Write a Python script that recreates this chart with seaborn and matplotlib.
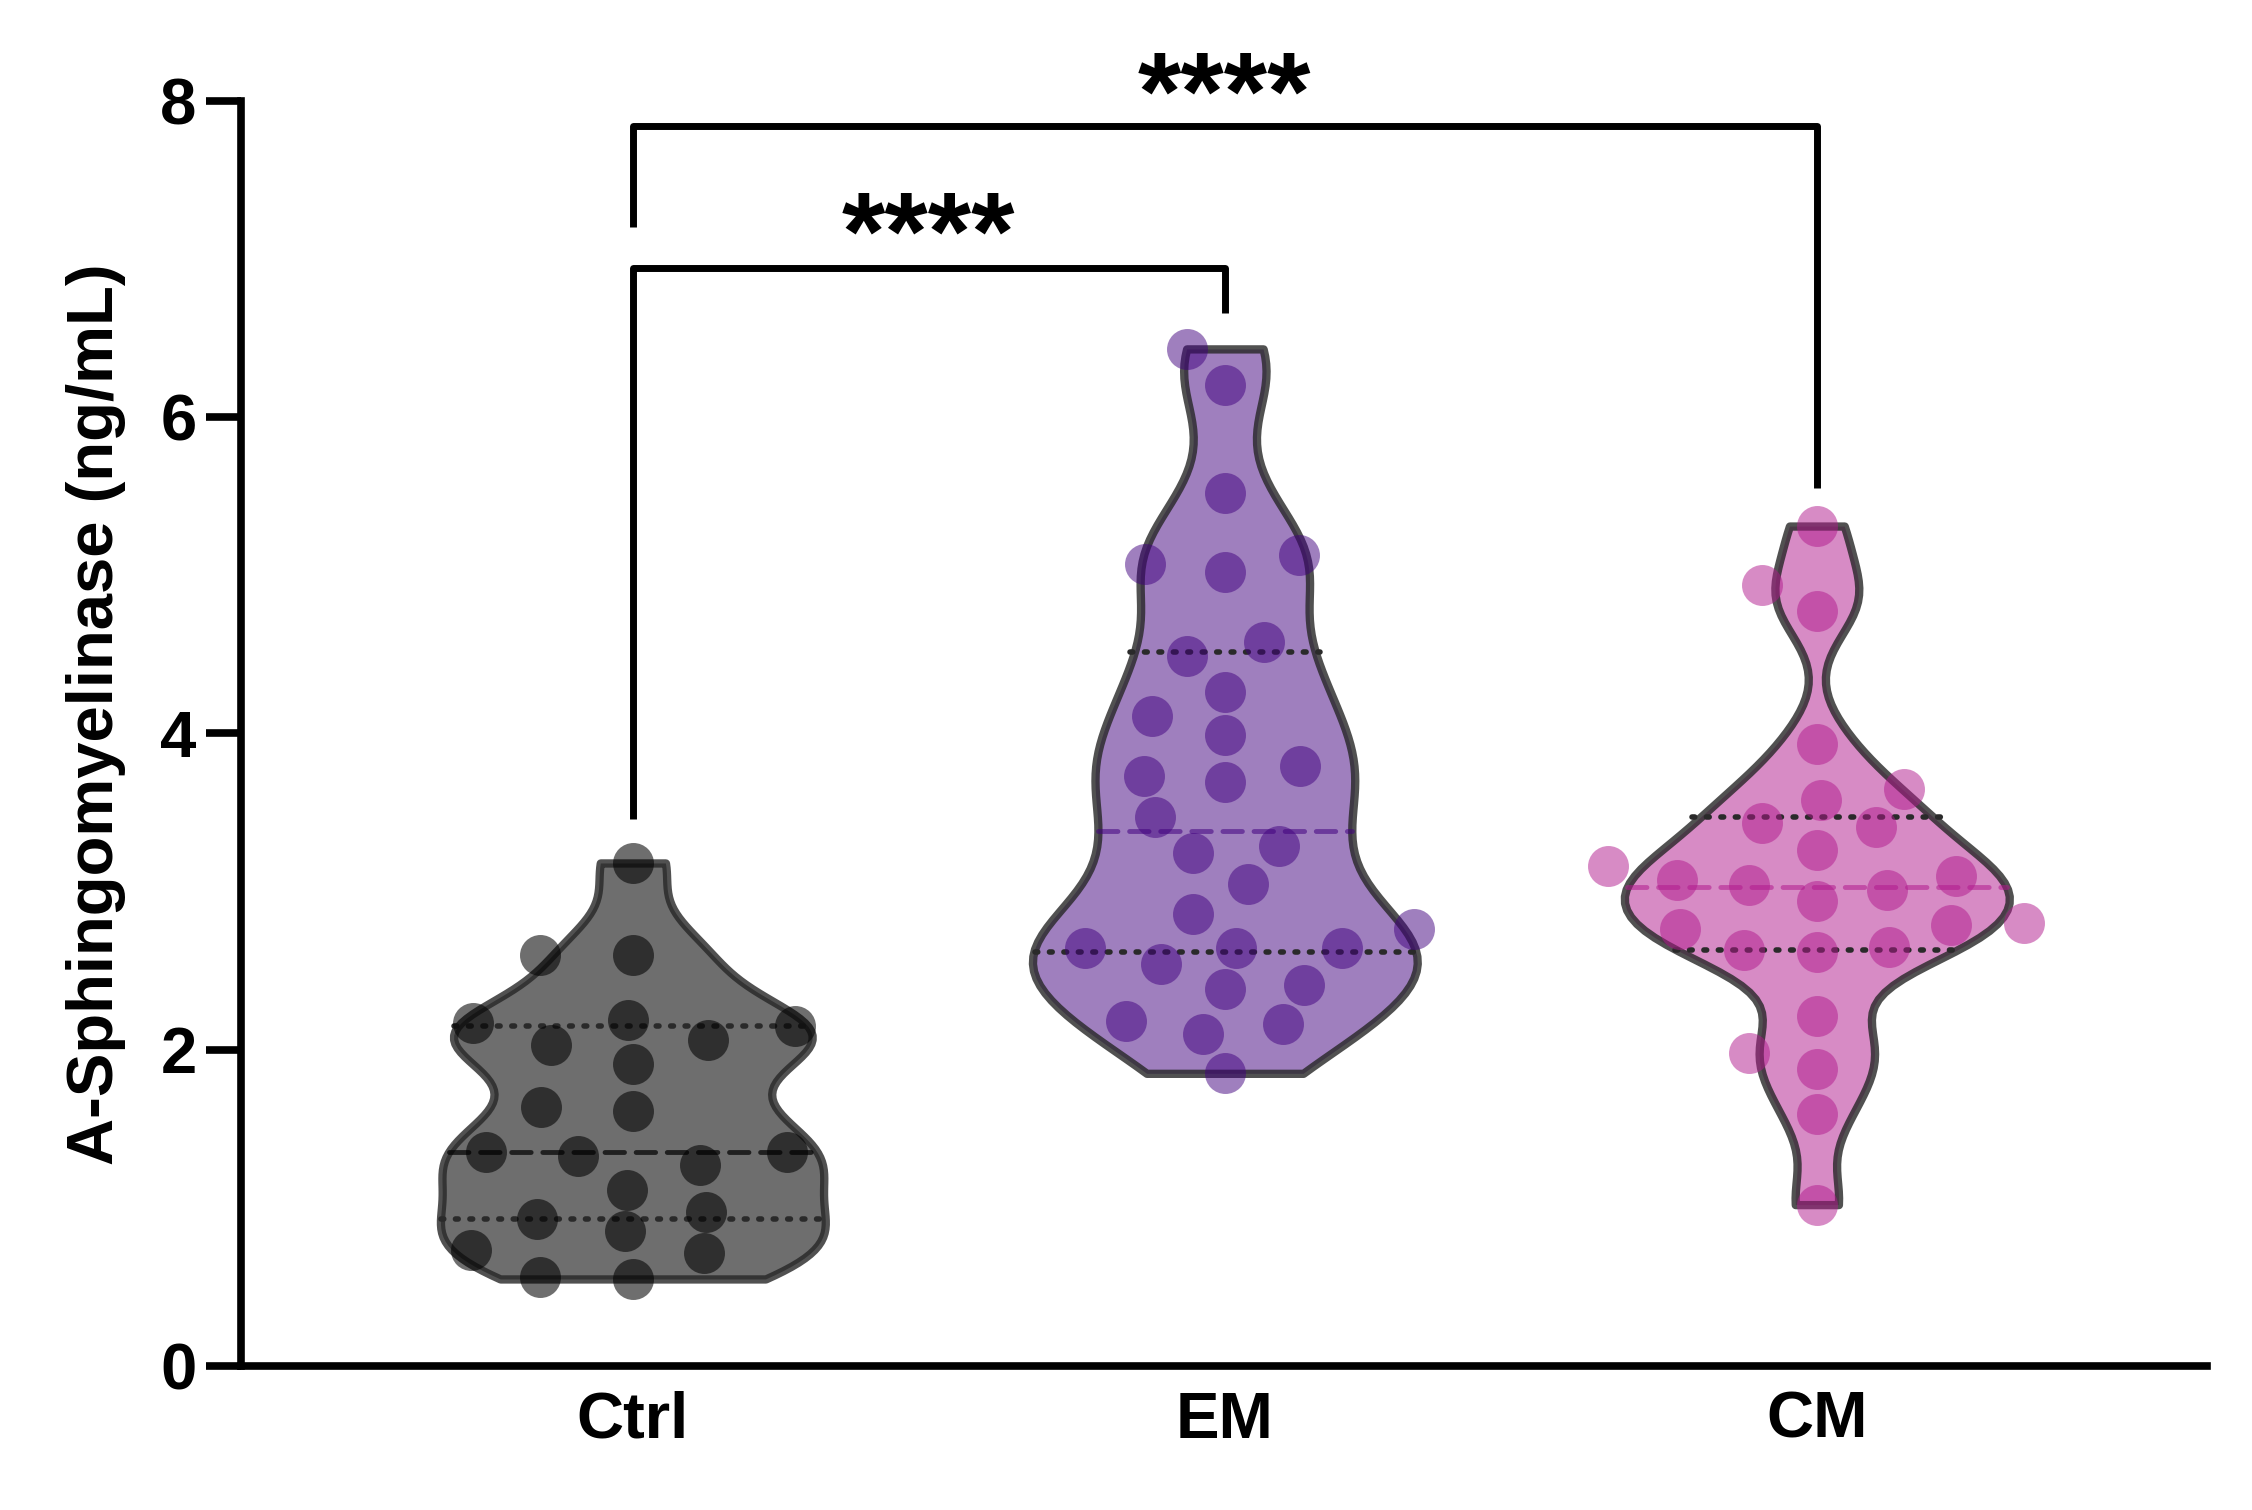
import numpy as np
import pandas as pd
import matplotlib
matplotlib.use("Agg")
import matplotlib.pyplot as plt
import seaborn as sns
from matplotlib.collections import PolyCollection, PathCollection
from matplotlib.colors import to_rgba

# values (ng/mL)
groups = ["Ctrl", "EM", "CM"]

ctrl = [3.18, 2.60, 2.60, 2.19, 2.17, 2.15, 2.06, 2.03, 1.91, 1.64, 1.61, 1.355,
        1.355, 1.33, 1.27, 1.11, 0.975, 0.93, 0.85, 0.73, 0.715, 0.56, 0.55]
em = [6.43, 6.20, 5.52, 5.13, 5.07, 5.02, 4.58, 4.49, 4.26, 4.11, 3.99, 3.79,
      3.73, 3.69, 3.47, 3.29, 3.24, 3.05, 2.86, 2.76, 2.64, 2.64, 2.64, 2.54,
      2.41, 2.38, 2.18, 2.16, 2.10, 1.85]
cm = [5.31, 4.94, 4.77, 3.93, 3.65, 3.58, 3.43, 3.41, 3.26, 3.16, 3.10, 3.07,
      3.04, 3.01, 2.94, 2.80, 2.79, 2.76, 2.65, 2.63, 2.62, 2.21, 1.98, 1.88,
      1.59, 1.02]

base_colors = ["#000000", "#41007f", "#b1198d"]
alphas = [0.57, 0.5, 0.5]
bw = [0.58, 0.5, 0.45]

df = pd.DataFrame({
    "group": ["Ctrl"] * len(ctrl) + ["EM"] * len(em) + ["CM"] * len(cm),
    "value": ctrl + em + cm,
})
pal = dict(zip(groups, base_colors))

sns.set_theme(style="ticks", rc={"axes.edgecolor": "black", "xtick.color": "black",
                                 "ytick.color": "black", "text.color": "black",
                                 "axes.labelcolor": "black"})
plt.rcParams["font.family"] = ["Liberation Sans", "DejaVu Sans"]
plt.rcParams["font.weight"] = "bold"

fig = plt.figure(figsize=(22.52, 15.10), dpi=100)
ax = fig.add_axes([0.107, 0.0954, 0.873, 0.838])

# one call per group so each gets its own smoothing
for g, b in zip(groups, bw):
    sns.violinplot(data=df[df["group"] == g], x="group", y="value", hue="group",
                   order=groups, hue_order=groups, palette=pal, saturation=1, cut=0,
                   inner="quart", density_norm="width", width=0.65, bw_adjust=b,
                   linewidth=6, linecolor="#333333", legend=False, ax=ax)

# violin fill / edge
for c in ax.collections:
    if isinstance(c, PolyCollection):
        i = int(round(c.get_paths()[0].vertices[:, 0].mean()))
        c.set_facecolor(to_rgba(base_colors[i], alphas[i]))
        c.set_edgecolor(to_rgba("#262626", 0.8))

# quartile lines (GraphPad style quartiles)
data_by = [ctrl, em, cm]
by_group = {0: [], 1: [], 2: []}
for ln in ax.lines:
    i = int(round(np.mean(ln.get_xdata())))
    by_group[i].append(ln)
for i, lns in by_group.items():
    lns.sort(key=lambda l: np.mean(l.get_ydata()))
    qs = np.percentile(data_by[i], [25, 50, 75], method="weibull")
    for k, ln in enumerate(lns):
        ln.set_ydata([qs[k], qs[k]])
        ln.set_dash_capstyle("round")
        if k == 1:
            ln.set_linewidth(3.5)
            ln.set_color(to_rgba(base_colors[i], 0.55 if i else 0.7))
            ln.set_linestyle((0, (4, 2.4)))
        else:
            ln.set_linewidth(4)
            ln.set_color("#2a2a2a")
            ln.set_linestyle((0, (0.5, 2.1)))

ax.set_xlim(-0.662, 2.659)
ax.set_ylim(0, 8)

sns.swarmplot(data=df, x="group", y="value", hue="group", order=groups,
              hue_order=groups, palette=pal, size=29.5, linewidth=0,
              legend=False, ax=ax)
ax.set_xlim(-0.662, 2.659)
ax.set_ylim(0, 8)
fig.canvas.draw()

# widen the swarm columns a bit, then keep the layout fixed
spread = [2.15, 1.9, 1.7]
for c in ax.collections:
    if isinstance(c, PathCollection):
        if "draw" in vars(c):
            del c.draw
        offs = np.array(c.get_offsets())
        i = int(round(np.median(offs[:, 0])))
        offs[:, 0] = i + (offs[:, 0] - i) * spread[i]
        c.set_offsets(offs)
        c.set_facecolor(to_rgba(base_colors[i], alphas[i]))
        c.set_zorder(3)

sns.despine(ax=ax)
ax.spines["left"].set_linewidth(5.5)
ax.spines["bottom"].set_linewidth(5.5)
ax.set_yticks([0, 2, 4, 6, 8])
ax.tick_params(axis="y", length=25, width=5.5, labelsize=47, pad=7)
ax.tick_params(axis="x", length=0, labelsize=47, pad=18)
ax.set_xlabel("")
ax.set_ylabel("A-Sphingomyelinase (ng/mL)", fontsize=47, fontweight="bold")
ax.yaxis.set_label_coords(-0.0585, 0.515)

# significance brackets
bk = dict(color="black", lw=5, clip_on=False, solid_capstyle="butt")
ax.plot([0, 0, 2, 2], [7.2, 7.84, 7.84, 5.55], **bk)
ax.plot([0, 0, 1, 1], [3.46, 6.94, 6.94, 6.66], **bk)
ax.text(1.0, 7.82, "****", ha="center", va="baseline", fontsize=80,
        fontweight="heavy", clip_on=False)
ax.text(0.5, 6.93, "****", ha="center", va="baseline", fontsize=80,
        fontweight="heavy", clip_on=False)

fig.savefig("out.png", dpi=100)
